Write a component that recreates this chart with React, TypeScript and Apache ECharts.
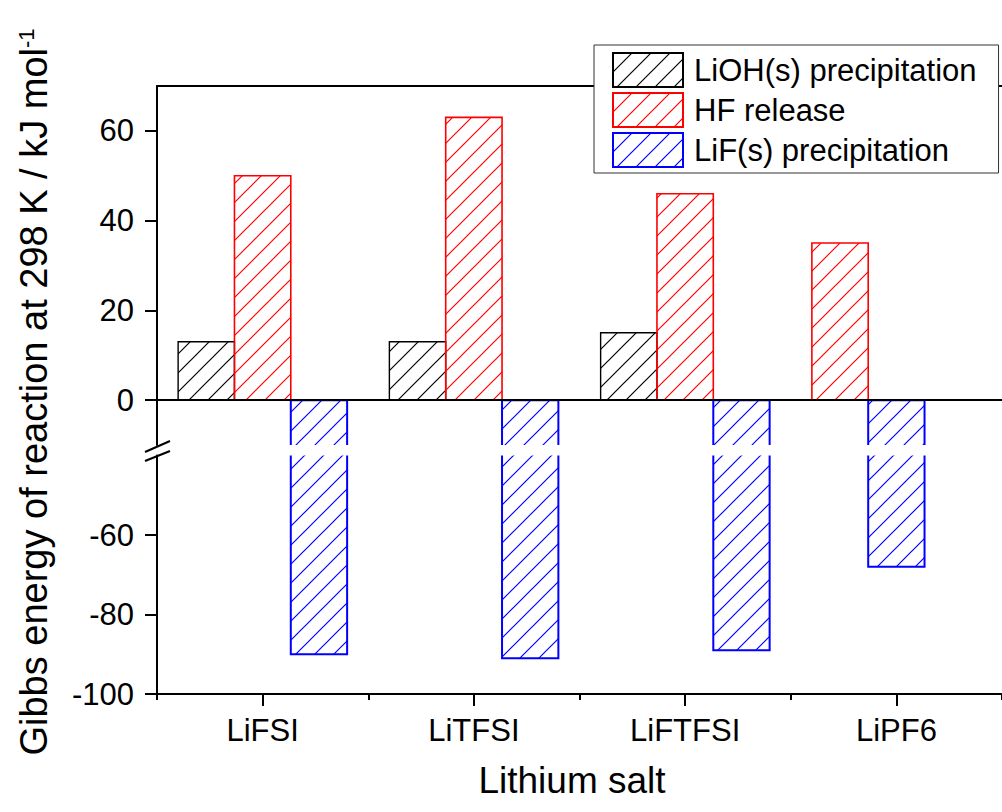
import React, { useEffect, useRef } from 'react';
import * as echarts from 'echarts';

// ---- data ----
const categories = ['LiFSI', 'LiTFSI', 'LiFTFSI', 'LiPF6'];
const seriesNames = ['LiOH(s) precipitation', 'HF release', 'LiF(s) precipitation'];
const liohPrecipitation: (number | null)[] = [13, 13, 15, null];
const hfRelease: (number | null)[] = [50, 63, 46, 35];
const lifPrecipitation: (number | null)[] = [-90, -91, -89, -68];
const upperMajorTicks = [0, 20, 40, 60];
const upperMinorTicks = [10, 30, 50, 70];
const lowerMajorTicks = [-100, -80, -60];
const lowerMinorTicks = [-90, -70, -50];
const upperRange = [-10, 70];
const lowerRange = [-100, -40];

const seriesColors = ['#000000', '#ff0000', '#0000ff'];
const borderWidths = [1.4, 1.6, 2];
const FONT = '"Liberation Sans", Arial, Helvetica, sans-serif';
const xTitle = 'Lithium salt';
const yTitle = 'Gibbs energy of reaction at 298 K / kJ mol';

function makeHatch(color: string) {
  const s = 19;
  const c = document.createElement('canvas');
  c.width = s;
  c.height = s;
  const ctx = c.getContext('2d')!;
  ctx.strokeStyle = color;
  ctx.lineWidth = 1.2;
  ctx.beginPath();
  ctx.moveTo(-2, s + 2);
  ctx.lineTo(s + 2, -2);
  ctx.moveTo(-3, 3);
  ctx.lineTo(3, -3);
  ctx.moveTo(s - 3, s + 3);
  ctx.lineTo(s + 3, s - 3);
  ctx.stroke();
  return { image: c, repeat: 'repeat', imageWidth: s, imageHeight: s };
}

export default function App() {
  const ref = useRef<HTMLDivElement>(null);

  useEffect(() => {
    if (!ref.current) return;
    const chart = echarts.init(ref.current, null, { renderer: 'svg' });
    const patterns = seriesColors.map((c) => makeHatch(c));
    const allValues = [liohPrecipitation, hfRelease, lifPrecipitation];
    // bars present in a category are placed side by side from the left slot
    const slots = allValues.map((vals, si) =>
      vals.map((_, ci) => {
        let k = 0;
        for (let j = 0; j < si; j++) if (allValues[j][ci] != null) k++;
        return k;
      })
    );

    const makeRender = (si: number) => (params: any, api: any) => {
      const cat = api.value(0);
      const val = api.value(1);
      const slot = api.value(2);
      const cs = params.coordSys;
      const p0 = api.coord([cat, 0]);
      const p1 = api.coord([cat, val]);
      const catW = api.size([1, 0])[0];
      const barW = (catW * 0.8) / 3;
      const x0 = p0[0] - catW * 0.4 + slot * barW;
      const x1 = x0 + barW;
      const top = Math.min(p0[1], p1[1]);
      const bot = Math.max(p0[1], p1[1]);
      const yMin = cs.y;
      const yMax = cs.y + cs.height;
      const ct = Math.max(top, yMin);
      const cb = Math.min(bot, yMax);
      if (cb - ct <= 0.01) return { type: 'group', children: [] };
      const stroke = seriesColors[si];
      const lw = borderWidths[si];
      const topIn = top >= yMin - 0.5;
      const botIn = bot <= yMax + 0.5;
      const children: any[] = [
        {
          type: 'rect',
          shape: { x: x0, y: ct, width: barW, height: cb - ct },
          style: { fill: patterns[si], stroke: null },
        },
      ];
      const ls = { stroke, lineWidth: lw, fill: null };
      if (topIn && botIn) {
        children.push({ type: 'rect', shape: { x: x0, y: ct, width: barW, height: cb - ct }, style: ls });
      } else if (topIn) {
        children.push({ type: 'polyline', shape: { points: [[x0, cb], [x0, ct], [x1, ct], [x1, cb]] }, style: ls });
      } else if (botIn) {
        children.push({ type: 'polyline', shape: { points: [[x0, ct], [x0, cb], [x1, cb], [x1, ct]] }, style: ls });
      } else {
        children.push({ type: 'line', shape: { x1: x0, y1: ct, x2: x0, y2: cb }, style: ls });
        children.push({ type: 'line', shape: { x1: x1, y1: ct, x2: x1, y2: cb }, style: ls });
      }
      return { type: 'group', children };
    };

    const series: any[] = [];
    [0, 2].forEach((axisIdx) => {
      allValues.forEach((vals, si) => {
        series.push({
          type: 'custom',
          name: seriesNames[si],
          xAxisIndex: axisIdx,
          yAxisIndex: axisIdx,
          renderItem: makeRender(si),
          encode: { x: 0, y: 1 },
          itemStyle: { color: patterns[si], borderColor: seriesColors[si], borderWidth: 2 },
          data: vals
            .map((v, ci) => (v == null ? null : [ci, v, slots[si][ci]]))
            .filter((d) => d != null),
          z: 2,
        });
      });
    });

    const axisLine = { show: true, onZero: false, lineStyle: { color: '#000', width: 2 } };
    const labelStyle = { color: '#000', fontSize: 31, fontFamily: FONT };

    chart.setOption({
      animation: false,
      textStyle: { fontFamily: FONT },
      grid: [
        { left: 157, top: 86, width: 848, height: 359 },
        { left: 157, top: 455.5, width: 848, height: 238.5 },
      ],
      xAxis: [
        {
          gridIndex: 0, type: 'category', data: categories, position: 'bottom', z: 5,
          axisLine: { show: true, onZero: true, lineStyle: { color: '#000', width: 2 } },
          axisTick: { show: false }, axisLabel: { show: false }, splitLine: { show: false },
        },
        {
          gridIndex: 0, type: 'category', data: categories, position: 'top', z: 5,
          axisLine, axisTick: { show: false }, axisLabel: { show: false }, splitLine: { show: false },
        },
        {
          gridIndex: 1, type: 'category', data: categories, position: 'bottom', z: 5,
          axisLine,
          axisTick: { show: true, alignWithLabel: true, length: 12, lineStyle: { color: '#000', width: 2 } },
          axisLabel: { ...labelStyle, margin: 21 },
          splitLine: { show: false },
        },
        {
          gridIndex: 1, type: 'category', data: categories, position: 'bottom', z: 5,
          axisLine: { show: false, onZero: false },
          axisTick: { show: true, length: 6, lineStyle: { color: '#000', width: 2 } },
          axisLabel: { show: false }, splitLine: { show: false },
        },
      ],
      yAxis: [
        {
          gridIndex: 0, type: 'value', min: upperRange[0], max: upperRange[1], z: 5,
          axisLine,
          axisTick: { show: true, customValues: upperMajorTicks, length: 12, lineStyle: { color: '#000', width: 2 } },
          axisLabel: { ...labelStyle, margin: 23, customValues: upperMajorTicks },
          splitLine: { show: false },
        },
        {
          gridIndex: 0, type: 'value', min: upperRange[0], max: upperRange[1], z: 5,
          axisLine: { show: false, onZero: false },
          axisTick: { show: true, customValues: upperMinorTicks, length: 6, lineStyle: { color: '#000', width: 2 } },
          axisLabel: { show: false }, splitLine: { show: false },
        },
        {
          gridIndex: 1, type: 'value', min: lowerRange[0], max: lowerRange[1], z: 5,
          axisLine,
          axisTick: { show: true, customValues: lowerMajorTicks, length: 12, lineStyle: { color: '#000', width: 2 } },
          axisLabel: { ...labelStyle, margin: 23, customValues: lowerMajorTicks },
          splitLine: { show: false },
        },
        {
          gridIndex: 1, type: 'value', min: lowerRange[0], max: lowerRange[1], z: 5,
          axisLine: { show: false, onZero: false },
          axisTick: { show: true, customValues: lowerMinorTicks, length: 6, lineStyle: { color: '#000', width: 2 } },
          axisLabel: { show: false }, splitLine: { show: false },
        },
      ],
      legend: {
        orient: 'vertical',
        left: 594,
        top: 45,
        padding: [7, 22, 5, 18],
        itemGap: 4,
        itemWidth: 70,
        itemHeight: 34,
        icon: 'rect',
        selectedMode: false,
        backgroundColor: '#fff',
        borderColor: '#333',
        borderWidth: 1,
        z: 10,
        textStyle: { color: '#000', fontSize: 31, fontFamily: FONT, padding: [0, 0, 0, 6] },
        data: seriesNames.map((n, i) => ({
          name: n,
          itemStyle: { color: patterns[i], borderColor: seriesColors[i], borderWidth: 2 },
        })),
      },
      graphic: [
        { type: 'line', z: 10, shape: { x1: 145, y1: 452, x2: 170, y2: 441 }, style: { stroke: '#000', lineWidth: 2 } },
        { type: 'line', z: 10, shape: { x1: 145, y1: 461, x2: 170, y2: 451 }, style: { stroke: '#000', lineWidth: 2 } },
        {
          type: 'text', x: 34, y: 392, rotation: Math.PI / 2, z: 10,
          style: {
            text: '{m|' + yTitle + '}{s|-1}',
            align: 'center',
            verticalAlign: 'middle',
            rich: {
              m: { fontSize: 38, fontFamily: FONT, fill: '#000' },
              s: { fontSize: 22, fontFamily: FONT, fill: '#000', verticalAlign: 'top' },
            },
          },
        },
        {
          type: 'text', x: 572, y: 780, z: 10,
          style: { text: xTitle, fontSize: 37, fontFamily: FONT, fill: '#000', align: 'center', verticalAlign: 'middle' },
        },
      ],
      series,
    });
    return () => chart.dispose();
  }, []);

  return (
    <div
      ref={ref}
      style={{ position: 'absolute', left: 0, top: 0, width: 1002, height: 812, background: '#fff' }}
    />
  );
}
